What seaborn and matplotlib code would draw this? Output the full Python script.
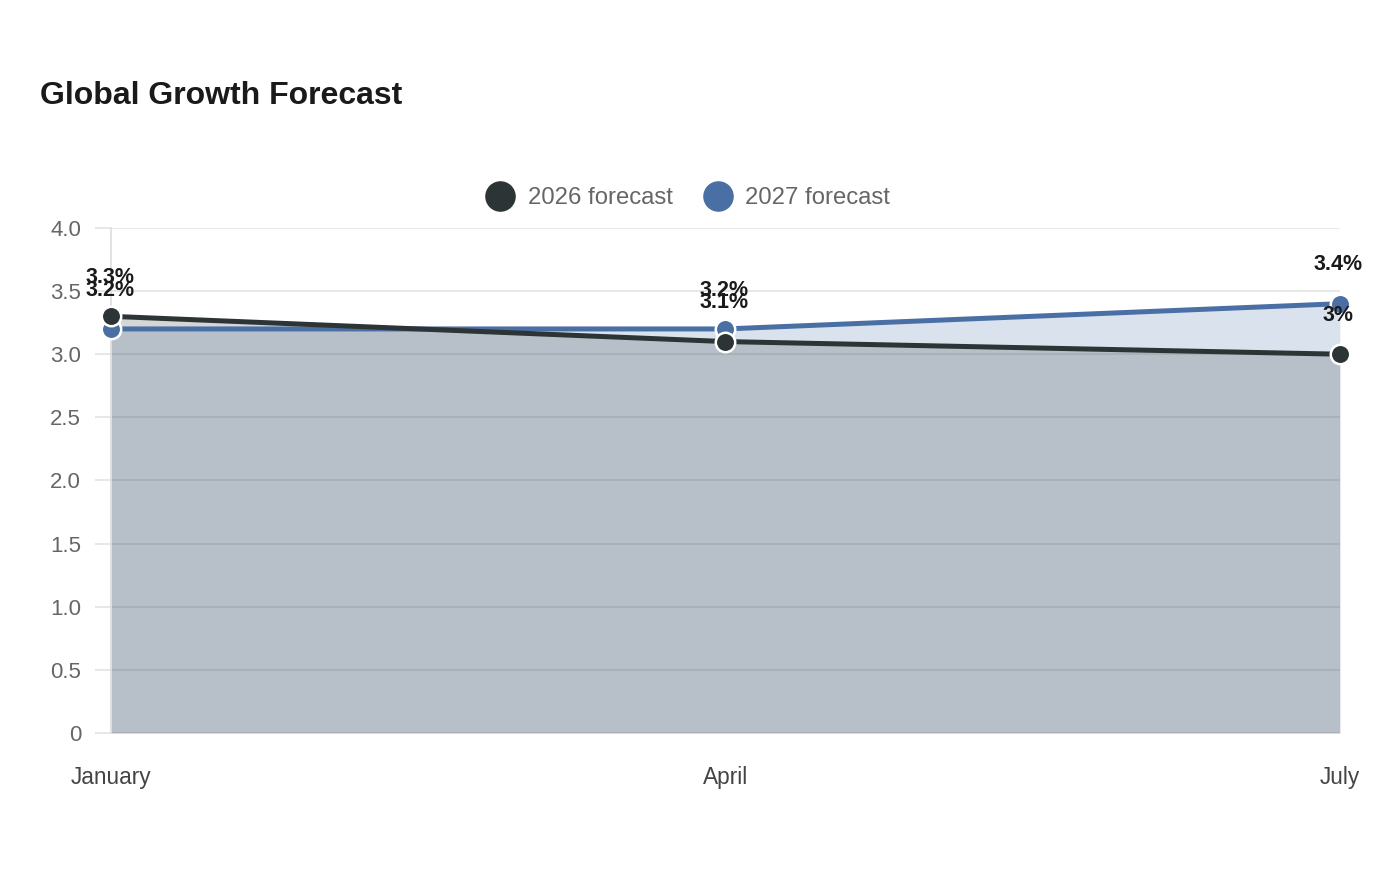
import matplotlib
matplotlib.use("Agg")
import matplotlib.pyplot as plt
import seaborn as sns
import pandas as pd
import numpy as np
from matplotlib.lines import Line2D

months = ["January", "April", "July"]
forecast_2026 = [3.3, 3.1, 3.0]
forecast_2027 = [3.2, 3.2, 3.4]
series_names = ["2026 forecast", "2027 forecast"]
label_2026 = ["3.3%", "3.1%", "3%"]
label_2027 = ["3.2%", "3.2%", "3.4%"]
ytick_values = [0, 0.5, 1.0, 1.5, 2.0, 2.5, 3.0, 3.5, 4.0]
ytick_labels = ["0", "0.5", "1.0", "1.5", "2.0", "2.5", "3.0", "3.5", "4.0"]

colors = {"2026 forecast": "#2d3436", "2027 forecast": "#4a6fa5"}

sns.set_theme(style="white")
plt.rcParams["font.family"] = ["Liberation Sans", "DejaVu Sans"]

fig = plt.figure(figsize=(14, 8.8), dpi=100)
ax = fig.add_axes([0.0793, 0.167, 0.957 - 0.0793, 0.741 - 0.167])

x = np.arange(len(months))
df26 = pd.DataFrame({"month": x, "value": forecast_2026})
df27 = pd.DataFrame({"month": x, "value": forecast_2027})

# fills
ax.fill_between(x, 0, forecast_2027, color=colors["2027 forecast"], alpha=0.2, lw=0, zorder=1)
ax.fill_between(x, 0, forecast_2026, color=colors["2026 forecast"], alpha=0.2, lw=0, zorder=1.1)

# lines
sns.lineplot(data=df27, x="month", y="value", ax=ax, color=colors["2027 forecast"],
             lw=3.6, marker="o", markersize=14, markeredgecolor="white",
             markeredgewidth=1.8, clip_on=False, zorder=3)
sns.lineplot(data=df26, x="month", y="value", ax=ax, color=colors["2026 forecast"],
             lw=3.6, marker="o", markersize=14, markeredgecolor="white",
             markeredgewidth=1.8, clip_on=False, zorder=4)

# data labels
for xi, v, lab in zip(x, forecast_2026, label_2026):
    ax.annotate(lab, (xi, v), xytext=(-1, 28), textcoords="offset points",
                ha="center", va="center", fontsize=15.5, fontweight="bold",
                color="#1a1a1a", zorder=6, annotation_clip=False)
for xi, v, lab in zip(x, forecast_2027, label_2027):
    ax.annotate(lab, (xi, v), xytext=(-1, 28), textcoords="offset points",
                ha="center", va="center", fontsize=15.5, fontweight="bold",
                color="#1a1a1a", zorder=6, annotation_clip=False)

ax.set_xlim(0, 2)
ax.set_ylim(0, 4.0)
ax.set_xticks(x)
ax.set_xticklabels(months)
ax.set_yticks(ytick_values)
ax.set_yticklabels(ytick_labels)
ax.set_xlabel("")
ax.set_ylabel("")

ax.grid(axis="y", color="#e3e3e3", lw=1.2)
ax.grid(axis="x", visible=False)
ax.set_axisbelow(True)

for s in ["top", "right", "bottom"]:
    ax.spines[s].set_visible(False)
ax.spines["left"].set_color("#dddddd")
ax.spines["left"].set_linewidth(1.2)

ax.tick_params(axis="y", length=11.5, width=1.2, color="#e3e3e3", pad=10,
               labelsize=16, labelcolor="#666666", left=True)
ax.tick_params(axis="x", length=0, pad=24, labelsize=16.3, labelcolor="#444444")

fig.text(40 / 1400, 1 - 96 / 880, "Global Growth Forecast", fontsize=23,
         fontweight="bold", color="#1a1a1a", ha="left", va="center")

handles = [Line2D([0], [0], marker="o", ls="none", markersize=21,
                  markerfacecolor=colors[n], markeredgecolor=colors[n]) for n in series_names]
fig.legend(handles, series_names, loc="center", bbox_to_anchor=(0.4915, 1 - 198 / 880),
           ncol=2, frameon=False, fontsize=17.2, labelcolor="#666666",
           handletextpad=0.55, columnspacing=1.3, handlelength=1.2)

fig.savefig("out.png", dpi=100)
